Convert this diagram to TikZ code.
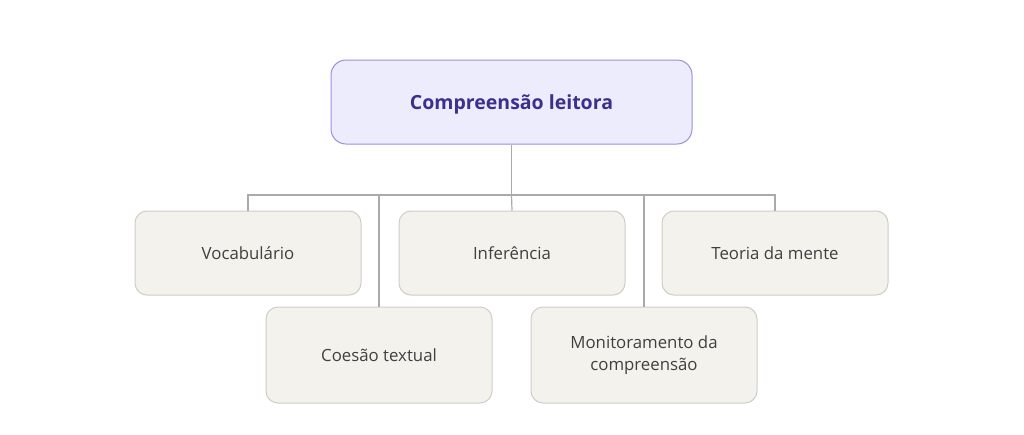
\documentclass[tikz,border=0pt]{standalone}
\usepackage{fontspec}
\setmainfont{Open Sans}
\definecolor{rootfill}{HTML}{ECECFD}
\definecolor{rootdraw}{HTML}{9A8FE0}
\definecolor{roottext}{HTML}{3B318C}
\definecolor{kidfill}{HTML}{F3F2EC}
\definecolor{kiddraw}{HTML}{CFCDC6}
\definecolor{kidtext}{HTML}{404040}
\definecolor{wire}{HTML}{AAAAAA}
\tikzset{
  rootbox/.style={draw=rootdraw, fill=rootfill, line width=1pt, rounded corners=15pt,
    minimum width=361pt, minimum height=84pt, inner sep=0pt, text=roottext,
    font=\fontsize{19.5}{23}\selectfont\bfseries},
  kidbox/.style={draw=kiddraw, fill=kidfill, line width=1pt, rounded corners=12pt,
    minimum width=226pt, minimum height=84pt, inner sep=0pt, text=kidtext,
    align=center, font=\fontsize{16.8}{22}\selectfont},
  tallbox/.style={kidbox, minimum height=96pt},
  wireline/.style={draw=wire, line width=1.2pt}
}
\begin{document}
\begin{tikzpicture}[x=1pt,y=-1pt]
\useasboundingbox (0,0) rectangle (1024,434);
\node[rootbox] (root) at (511.5,102) {};
\node[text=roottext, font=\fontsize{19.5}{23}\selectfont\bfseries] (roottxt) at (511.5,104) {Compreensão leitora};
\node[kidbox] (voc) at (248,253) {Vocabulário};
\node[kidbox] (inf) at (512,253) {Inferência};
\node[kidbox] (teo) at (775,253) {Teoria da mente};
\node[tallbox] (coe) at (379,355) {Coesão textual};
\node[tallbox] (mon) at (644,355) {Monitoramento da\\compreensão};
\coordinate (bus) at (511.5,195);
\draw[wireline] (root.south) -- (bus);
\draw[wireline] (voc.north) -- (voc.north |- bus) -- (teo.north |- bus) -- (teo.north);
\draw[wireline] (bus) -- (inf.north);
\draw[wireline] (coe.north |- bus) -- (coe.north);
\draw[wireline] (mon.north |- bus) -- (mon.north);
\end{tikzpicture}
\end{document}
